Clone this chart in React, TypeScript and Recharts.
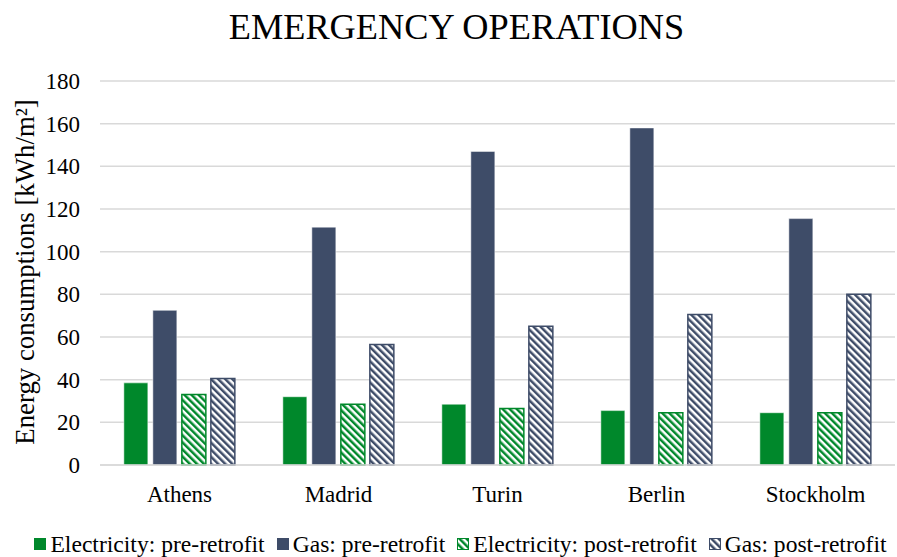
import React from "react";
import {
  BarChart,
  Bar,
  XAxis,
  YAxis,
  CartesianGrid,
  Legend,
} from "recharts";

const cities = ["Athens", "Madrid", "Turin", "Berlin", "Stockholm"];
const elecPre = [38.5, 32, 28.5, 25.5, 24.5];
const gasPre = [72.5, 111.5, 147, 158, 115.5];
const elecPost = [33, 28.5, 26.5, 24.5, 24.5];
const gasPost = [40.5, 56.5, 65, 70.5, 80];
const yTicks = [0, 20, 40, 60, 80, 100, 120, 140, 160, 180];

const GREEN = "#00882B";
const NAVY = "#3E4C68";
const SERIF = "Liberation Serif, serif";

const data = cities.map((city, i) => ({
  city,
  elecPre: elecPre[i],
  gasPre: gasPre[i],
  elecPost: elecPost[i],
  gasPost: gasPost[i],
}));

const series = [
  { key: "elecPre", name: "Electricity: pre-retrofit", color: GREEN, hatched: false },
  { key: "gasPre", name: "Gas: pre-retrofit", color: NAVY, hatched: false },
  { key: "elecPost", name: "Electricity: post-retrofit", color: GREEN, hatched: true },
  { key: "gasPost", name: "Gas: post-retrofit", color: NAVY, hatched: true },
];

function LegendContent() {
  return (
    <div
      style={{
        display: "flex",
        justifyContent: "center",
        alignItems: "center",
        height: 26,
        fontFamily: SERIF,
        fontSize: 23.6,
        color: "#000",
        whiteSpace: "nowrap",
        paddingLeft: 26,
      }}
    >
      {series.map((s, i) => (
        <span
          key={s.key}
          style={{ display: "flex", alignItems: "center", marginLeft: i === 0 ? 0 : 12 }}
        >
          <svg width={12} height={12} style={{ marginRight: 4 }}>
            <rect
              x={0.5}
              y={0.5}
              width={11}
              height={11}
              fill={s.hatched ? `url(#hatch-${s.key})` : s.color}
              stroke={s.color}
              strokeWidth={1}
            />
          </svg>
          {s.name}
        </span>
      ))}
    </div>
  );
}

export default function App() {
  return (
    <div
      style={{
        position: "absolute",
        left: 0,
        top: 0,
        width: 897,
        height: 557,
        background: "#fff",
        fontFamily: SERIF,
      }}
    >
      <div
        style={{
          position: "absolute",
          top: 7,
          left: 8,
          width: 897,
          textAlign: "center",
          fontFamily: SERIF,
          fontSize: 36.3,
          lineHeight: "40px",
          color: "#000",
        }}
      >
        EMERGENCY OPERATIONS
      </div>
      <BarChart
        width={897}
        height={557}
        data={data}
        margin={{ top: 81, right: 2, left: 0, bottom: 0 }}
        barCategoryGap="15%"
        barGap={5}
        style={{ fontFamily: SERIF }}
      >
        <defs>
          {series
            .filter((s) => s.hatched)
            .map((s) => (
              <pattern
                key={s.key}
                id={`hatch-${s.key}`}
                patternUnits="userSpaceOnUse"
                width={5}
                height={5}
                patternTransform="rotate(-45)"
              >
                <rect x={0} y={0} width={5} height={5} fill="#fff" />
                <rect x={0} y={0} width={2.5} height={5} fill={s.color} />
              </pattern>
            ))}
        </defs>
        <CartesianGrid vertical={false} stroke="#D9D9D9" strokeWidth={1.5} />
        <XAxis
          dataKey="city"
          height={66}
          axisLine={{ stroke: "#D9D9D9", strokeWidth: 1.5 }}
          tickLine={false}
          tickMargin={15}
          tick={{ fontFamily: SERIF, fontSize: 23, fill: "#000" }}
        />
        <YAxis
          width={100}
          domain={[0, 180]}
          ticks={yTicks}
          axisLine={false}
          tickLine={false}
          tickMargin={14}
          tick={{ fontFamily: SERIF, fontSize: 23, fill: "#000" }}
          label={{
            content: ({ viewBox }: any) => {
              const cy = viewBox.y + viewBox.height / 2 - 1;
              return (
                <text
                  x={25}
                  y={cy}
                  transform={`rotate(-90 25 ${cy})`}
                  textAnchor="middle"
                  dominantBaseline="central"
                  style={{ fontFamily: SERIF, fontSize: 26.8 }}
                  fill="#000"
                >
                  Energy consumptions [kWh/m²]
                </text>
              );
            },
          }}
        />
        <Legend verticalAlign="bottom" height={26} content={<LegendContent />} />
        {series.map((s) => (
          <Bar
            key={s.key}
            dataKey={s.key}
            name={s.name}
            fill={s.hatched ? `url(#hatch-${s.key})` : s.color}
            stroke={s.hatched ? s.color : "#fff"}
            strokeWidth={s.hatched ? 1.5 : 0.5}
            isAnimationActive={false}
          />
        ))}
      </BarChart>
    </div>
  );
}
